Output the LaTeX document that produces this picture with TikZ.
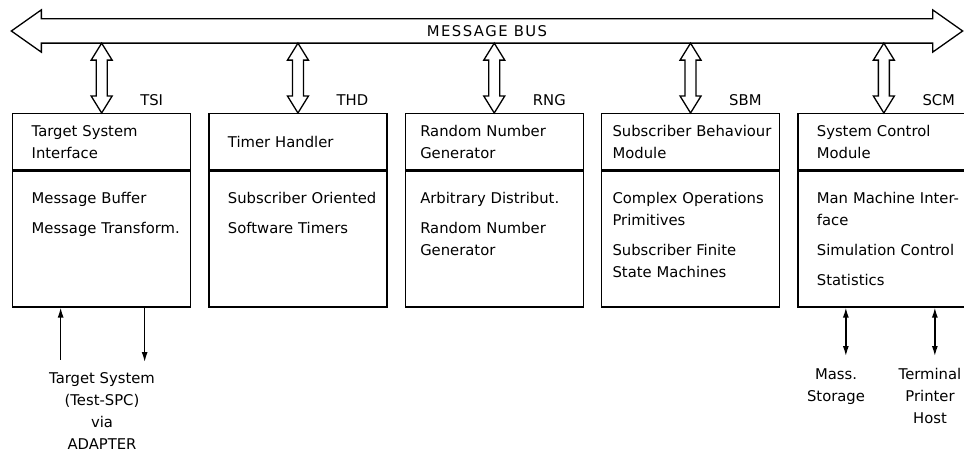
\documentclass[tikz,border=0pt]{standalone}
\usepackage{fontspec}
\setmainfont{DejaVu Sans}
\newfontfamily\busfont{DejaVu Sans}[LetterSpace=10]
\usetikzlibrary{positioning, arrows.meta, calc}

\begin{document}
\begin{tikzpicture}[x=1pt,y=-1pt,font=\fontsize{14.8}{22}\selectfont,line width=1.3pt,>={Latex[length=10pt,width=6pt]},node distance=17pt,
  modhead/.style={draw,minimum height=56pt,text width=176pt,inner xsep=1pt,align=left,execute at begin node={\leftskip=#1\hyphenpenalty=10000\relax}},
  modhead/.default=18pt,
  modbody/.style={draw,text width=176pt,inner xsep=1pt,inner ysep=0pt,text height=33pt,text depth=103pt,align=left,execute at begin node={\leftskip=#1\hyphenpenalty=10000\relax}},
  modbody/.default=18pt]
  \useasboundingbox (0,0) rectangle (964,452);
  % message bus
  \node[minimum width=890pt,minimum height=23pt,inner sep=0pt](bus) at (487,31){\busfont MESSAGE BUS};
  \draw (bus.north west)--(bus.north east)--([yshift=9pt]bus.north east)--([xshift=30pt]bus.east)--([yshift=-9pt]bus.south east)--(bus.south east)
    --(bus.south west)--([yshift=-9pt]bus.south west)--([xshift=-30pt]bus.west)--([yshift=9pt]bus.north west)--cycle;
  % modules
  \node[modhead,anchor=north west](tsih) at (12,113){Target System\\Interface};
  \node[modhead,right=of tsih](thdh){Timer Handler};
  \node[modhead=14pt,right=of thdh](rngh){Random Number\\Generator};
  \node[modhead=10pt,right=of rngh](sbmh){Subscriber Behaviour\\Module};
  \node[modhead,right=of sbmh,text width=170pt](scmh){System Control\\Module};
  \node[modbody,below=0pt of tsih](tsib){Message Buffer\\[8pt]Message Transform.};
  \node[modbody,below=0pt of thdh](thdb){Subscriber Oriented\\[8pt]Software Timers};
  \node[modbody=14pt,below=0pt of rngh](rngb){Arbitrary Distribut.\\[8pt]Random Number\\Generator};
  \node[modbody=10pt,below=0pt of sbmh](sbmb){Complex Operations\\Primitives\\[8pt]Subscriber Finite\\State Machines};
  \node[modbody,below=0pt of scmh,text width=170pt](scmb){Man Machine Inter-\\face\\[8pt]Simulation Control\\[8pt]Statistics};
  % module names
  \node[above right=7pt and 38pt of tsih.north,inner sep=0pt](tsil){TSI};
  \node[above right=7pt and 38pt of thdh.north,inner sep=0pt](thdl){THD};
  \node[above right=7pt and 38pt of rngh.north,inner sep=0pt](rngl){RNG};
  \node[above right=7pt and 38pt of sbmh.north,inner sep=0pt](sbml){SBM};
  \node[above right=7pt and 38pt of scmh.north,inner sep=0pt](scml){SCM};
  % bus connections
  \foreach \m in {tsih,thdh,rngh,sbmh,scmh}
    \draw let \p1=(bus.south -| \m.north), \p2=(\m.north) in
      (\x1,\y1)--(\x1+10.5pt,\y1-17pt)--(\x1+5.5pt,\y1-17pt)--(\x2+5.5pt,\y2+17pt)--(\x2+10.5pt,\y2+17pt)--(\x2,\y2)
      --(\x2-10.5pt,\y2+17pt)--(\x2-5.5pt,\y2+17pt)--(\x1-5.5pt,\y1-17pt)--(\x1-10.5pt,\y1-17pt)--cycle;
  % external units
  \node[align=center,anchor=north,inner sep=0pt](tgt) at (102,372){Target System\\(Test-SPC)\\via\\ADAPTER};
  \node[align=center,anchor=north,inner sep=0pt](mass) at (836,368){Mass.\\Storage};
  \node[align=center,anchor=north,inner sep=0pt](term) at (930,368){Terminal\\Printer\\Host};
  \draw[<-,shorten >=12pt]([xshift=-41pt]tsib.south)--([xshift=-41pt]tsib.south |- tgt.north);
  \draw[->,shorten >=10pt]([xshift=43pt]tsib.south)--([xshift=43pt]tsib.south |- tgt.north);
  \draw[<->,shorten >=12pt]([xshift=-38pt]scmb.south)--([xshift=-38pt]scmb.south |- mass.north);
  \draw[<->,shorten >=12pt]([xshift=51pt]scmb.south)--([xshift=51pt]scmb.south |- term.north);
\end{tikzpicture}
\end{document}
